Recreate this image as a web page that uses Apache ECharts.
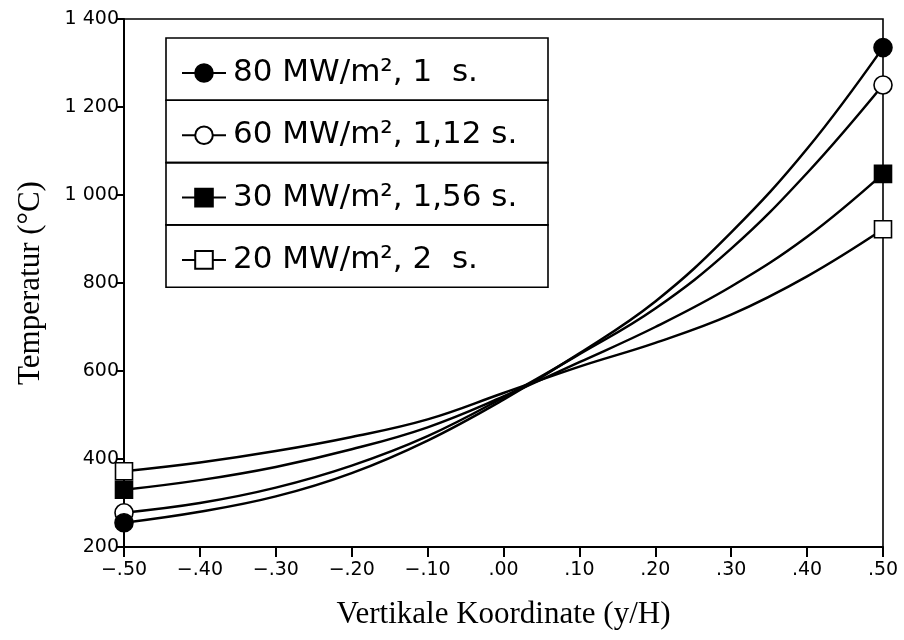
<!DOCTYPE html>
<html>
<head>
<meta charset="utf-8">
<script src="https://cdn.jsdelivr.net/npm/echarts@6/dist/echarts.min.js"></script>
<style>html,body{margin:0;padding:0;background:#fff}#c{width:904px;height:640px}</style>
</head>
<body>
<div id="c"></div>
<script>
const xValues = [-0.5, -0.4, -0.3, -0.2, -0.1, 0, 0.1, 0.2, 0.3, 0.4, 0.5];
const s80 = [255, 280, 315, 368, 442, 535, 640, 758, 915, 1105, 1335];
const s60 = [278, 300, 335, 385, 452, 540, 638, 742, 878, 1050, 1250];
const s30 = [330, 352, 382, 422, 472, 542, 620, 700, 792, 905, 1048];
const s20 = [372, 392, 418, 450, 490, 550, 610, 664, 728, 815, 922];
const seriesNames = ['80 MW/m², 1  s.', '60 MW/m², 1,12 s.', '30 MW/m², 1,56 s.', '20 MW/m², 2  s.'];
const xTickLabels = ['\u2212.50', '\u2212.40', '\u2212.30', '\u2212.20', '\u2212.10', '.00', '.10', '.20', '.30', '.40', '.50'];
const yTickLabels = ['200', '400', '600', '800', '1 000', '1 200', '1 400'];

const chart = echarts.init(document.getElementById('c'));
const styles = [
  {symbol: 'circle', fill: '#000'},
  {symbol: 'circle', fill: '#fff'},
  {symbol: 'rect', fill: '#000'},
  {symbol: 'rect', fill: '#fff'}
];
const allData = [s80, s60, s30, s20];
const series = allData.map((vals, k) => ({
  name: seriesNames[k],
  type: 'line',
  smooth: 0.4,
  symbol: styles[k].symbol,
  symbolSize: styles[k].symbol === 'circle' ? 18 : 17,
  showAllSymbol: true,
  z: 10 - k,
  lineStyle: {color: '#000', width: 2.5},
  itemStyle: {color: styles[k].fill, borderColor: '#000', borderWidth: 1.6},
  emphasis: {disabled: true},
  data: vals.map((v, i) => ({
    value: [xValues[i], v],
    symbol: (i === 0 || i === vals.length - 1) ? styles[k].symbol : 'none'
  }))
}));

const boxTop = 38, rowH = 62.3, boxLeft = 166, boxW = 382;
const boxes = [0, 1, 2, 3].map(i => ({
  type: 'rect',
  shape: {x: boxLeft, y: boxTop + i * rowH, width: boxW, height: rowH},
  style: {fill: 'transparent', stroke: '#000', lineWidth: 1.6},
  z: 20
}));

chart.setOption({
  animation: false,
  backgroundColor: '#fff',
  grid: {left: 124, right: 21, top: 19, bottom: 93, show: true, borderColor: '#000', borderWidth: 1.6,
         containLabel: false, outerBoundsMode: 'none'},
  xAxis: {
    type: 'value', min: -0.5, max: 0.5, interval: 0.1,
    axisLine: {show: true, onZero: false, lineStyle: {color: '#000', width: 2}},
    axisTick: {show: true, inside: false, length: 10, lineStyle: {color: '#000', width: 2}},
    splitLine: {show: false},
    axisLabel: {
      color: '#000', fontFamily: 'DejaVu Sans', fontSize: 19, margin: 14,
      formatter: v => xTickLabels[Math.round((v + 0.5) * 10)]
    },
    name: 'Vertikale Koordinate (y/H)', nameLocation: 'middle', nameGap: 52,
    nameTextStyle: {color: '#000', fontFamily: 'Liberation Serif', fontSize: 31}
  },
  yAxis: {
    type: 'value', min: 200, max: 1400, interval: 200,
    axisLine: {show: true, onZero: false, lineStyle: {color: '#000', width: 2}},
    axisTick: {show: true, inside: false, length: 8, lineStyle: {color: '#000', width: 2}},
    splitLine: {show: false},
    axisLabel: {
      color: '#000', fontFamily: 'DejaVu Sans', fontSize: 19, margin: 5,
      formatter: v => yTickLabels[Math.round((v - 200) / 200)]
    },
    name: 'Temperatur (°C)', nameLocation: 'middle', nameGap: 78, nameRotate: 90,
    nameTextStyle: {color: '#000', fontFamily: 'Liberation Serif', fontSize: 31}
  },
  legend: {
    orient: 'vertical', left: 176, top: boxTop + 12,
    itemWidth: 44, itemHeight: 22, itemGap: 26.3,
    selectedMode: false,
    textStyle: {color: '#000', fontFamily: 'DejaVu Sans', fontSize: 31, lineHeight: 36, padding: [0, 0, 0, 2]},
    data: seriesNames
  },
  graphic: boxes,
  series: series
});
</script>
</body>
</html>
